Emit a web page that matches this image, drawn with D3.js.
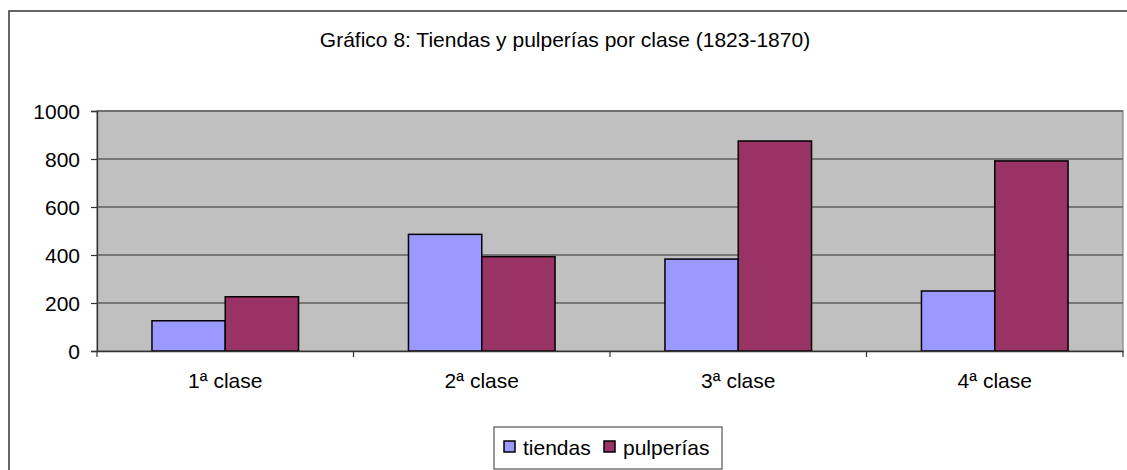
<!DOCTYPE html>
<html><head><meta charset="utf-8">
<script src="https://cdn.jsdelivr.net/npm/d3@7"></script>
<style>body{margin:0;background:#fff}svg{display:block}text{font-family:"Liberation Sans",Arial,sans-serif;fill:#000}</style>
</head><body>
<script>
const categories = ["1ª clase","2ª clase","3ª clase","4ª clase"];
const seriesNames = ["tiendas","pulperías"];
const tiendas = [126,486,383,250];
const pulperias = [226,393,875,792];
const yTicks = [0,200,400,600,800,1000];
const title = "Gráfico 8: Tiendas y pulperías por clase (1823-1870)";
const colors = ["#9999FF","#993366"];

(function(){
const W=1127,H=470,FS="21px";
const svg=d3.select("body").append("svg").attr("width",W).attr("height",H);
svg.append("rect").attr("x",9).attr("y",11).attr("width",1130).attr("height",470).attr("fill","#fff").attr("stroke","#333").attr("stroke-width",1.5);

const pL=97,pR=1123,pT=111,pB=351;
const y=d3.scaleLinear().domain([0,1000]).range([pB,pT]);
const x=d3.scaleBand().domain(categories).range([pL,pR]).padding(0);
const xs=d3.scaleBand().domain(seriesNames).range([0,x.bandwidth()]).paddingInner(0).paddingOuter(0.75);

svg.append("rect").attr("x",pL).attr("y",pT).attr("width",pR-pL).attr("height",pB-pT).attr("fill","#C0C0C0").attr("stroke","#808080").attr("stroke-width",1.2);

svg.append("g").selectAll("line").data(yTicks.filter(d=>d>0)).join("line")
 .attr("x1",pL).attr("x2",pR).attr("y1",d=>y(d)).attr("y2",d=>y(d))
 .attr("stroke","#5f5f5f").attr("stroke-width",1.3);

const data=categories.map((c,i)=>({c,vals:[tiendas[i],pulperias[i]]}));
const g=svg.append("g");
data.forEach(d=>{
  d.vals.forEach((v,j)=>{
    g.append("rect").attr("x",x(d.c)+xs(seriesNames[j])).attr("y",y(v))
     .attr("width",xs.bandwidth()).attr("height",y(0)-y(v))
     .attr("fill",colors[j]).attr("stroke","#000").attr("stroke-width",1.5);
  });
});

const ya=svg.append("g").attr("transform",`translate(${pL},0)`)
 .call(d3.axisLeft(y).tickValues(yTicks).tickSize(6).tickPadding(11).tickFormat(d3.format("d")));
ya.select(".domain").attr("stroke","#333").attr("stroke-width",1.3);
ya.selectAll(".tick line").attr("stroke","#333").attr("stroke-width",1.2);
ya.selectAll(".tick text").style("font-size",FS).style("font-family","Liberation Sans, Arial, sans-serif").attr("dy","0.35em");

const xa=svg.append("g").attr("transform",`translate(0,${pB})`)
 .call(d3.axisBottom(x).tickSize(0).tickPadding(22));
xa.select(".domain").attr("stroke","#333").attr("stroke-width",1.3);
xa.selectAll(".tick text").style("font-size",FS).style("font-family","Liberation Sans, Arial, sans-serif");
svg.append("g").selectAll("line").data(d3.range(categories.length+1)).join("line")
 .attr("x1",i=>pL+i*x.step()).attr("x2",i=>pL+i*x.step())
 .attr("y1",pB).attr("y2",pB+6).attr("stroke","#333").attr("stroke-width",1.2);

svg.append("text").attr("x",565).attr("y",47).attr("text-anchor","middle").style("font-size",FS).text(title);

svg.append("rect").attr("x",494).attr("y",427).attr("width",228).attr("height",42).attr("fill","#fff").attr("stroke","#333").attr("stroke-width",1);
const lx=[504,604];
seriesNames.forEach((s,j)=>{
  svg.append("rect").attr("x",lx[j]).attr("y",441).attr("width",11).attr("height",11).attr("fill",colors[j]).attr("stroke","#000").attr("stroke-width",1.5);
  svg.append("text").attr("x",lx[j]+19).attr("y",455).style("font-size",FS).text(s);
});
})();
</script>
</body></html>
